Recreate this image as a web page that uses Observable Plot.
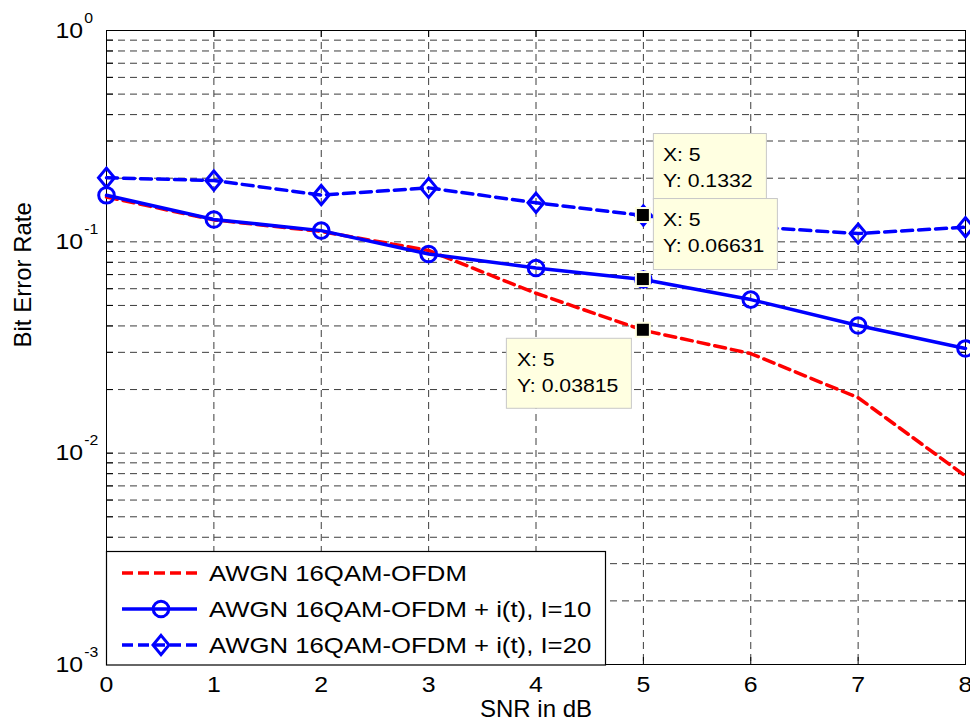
<!DOCTYPE html>
<html><head><meta charset="utf-8">
<script src="https://cdn.jsdelivr.net/npm/d3@7"></script>
<script src="https://cdn.jsdelivr.net/npm/@observablehq/plot@0.6"></script>
<style>body{margin:0;background:#fff} svg{display:block}</style>
</head><body><div id="chart"></div>
<script>
// ---- data ----
const snr = [0, 1, 2, 3, 4, 5, 6, 7, 8];
const berAwgn = [0.163, 0.127, 0.112, 0.091, 0.0571, 0.03815, 0.0296, 0.0183, 0.0078];
const berI10  = [0.166, 0.1276, 0.113, 0.0876, 0.0752, 0.06631, 0.0533, 0.0402, 0.0313];
const berI20  = [0.201, 0.195, 0.1665, 0.180, 0.153, 0.1332, 0.118, 0.1094, 0.1173];
const seriesNames = ["AWGN 16QAM-OFDM", "AWGN 16QAM-OFDM + i(t), I=10", "AWGN 16QAM-OFDM + i(t), I=20"];
const xTicks = [0, 1, 2, 3, 4, 5, 6, 7, 8];
const yDecades = [1e-3, 1e-2, 1e-1, 1];
const tipX = [5, 5, 5];
const tipY = [0.1332, 0.06631, 0.03815];
const tipYLabels = ["0.1332", "0.06631", "0.03815"];
const xLabel = "SNR in dB";
const yLabel = "Bit Error Rate";

const rows = snr.map((x, i) => ({x, awgn: berAwgn[i], i10: berI10[i], i20: berI20[i]}));
const yGrid = d3.scaleLog().domain([1e-3, 1]).ticks(); // 1..9 x 10^k
const yGridInner = yGrid.filter(v => v > 1e-3 * 1.0001 && v < 0.9999);
const xGridInner = xTicks.filter(v => v > 0 && v < 8);

const W = 970, H = 728, ML = 106, MR = 5, MT = 30, MB = 64;
const innerW = W - ML - MR, innerH = H - MT - MB;
const tickLen = 7;
const FONT = "'Liberation Sans', Arial, Helvetica, sans-serif";

const diamondSym = {draw(ctx, size) {
  const r = Math.sqrt(size / Math.PI), w = r, h = r * 1.2;
  ctx.moveTo(0, -h); ctx.lineTo(w, 0); ctx.lineTo(0, h); ctx.lineTo(-w, 0); ctx.closePath();
}};

const gridStyle = {stroke: "#3c3c3c", strokeWidth: 1, strokeDasharray: "7,5"};
const lw = 3.5;

const chart = Plot.plot({
  width: W, height: H,
  marginLeft: ML, marginRight: MR, marginTop: MT, marginBottom: MB,
  style: {fontFamily: FONT, background: "white", color: "black", overflow: "visible"},
  x: {domain: [0, 8], axis: null},
  y: {type: "log", domain: [1e-3, 1], axis: null},
  marks: [
    Plot.ruleY(yGridInner, {y: d => d, ...gridStyle}),
    Plot.ruleX(xGridInner, {x: d => d, ...gridStyle}),
    // inward ticks on all four sides
    Plot.tickY(yGrid, {y: d => d, insetRight: innerW - tickLen, stroke: "black"}),
    Plot.tickY(yGrid, {y: d => d, insetLeft: innerW - tickLen, stroke: "black"}),
    Plot.tickX(xTicks, {x: d => d, insetTop: innerH - tickLen, stroke: "black"}),
    Plot.tickX(xTicks, {x: d => d, insetBottom: innerH - tickLen, stroke: "black"}),
    Plot.frame({stroke: "black", strokeWidth: 1}),
    Plot.axisX({ticks: xTicks, tickSize: 0, tickPadding: 12, fontSize: 22, label: null, tickFormat: d => String(d)}),
    Plot.axisY({ticks: yDecades, tickSize: 0, tickPadding: 51, textAnchor: "start", fontSize: 22, label: null,
      tickFormat: d => "10^" + Math.round(Math.log10(d))}),
    Plot.text([xLabel], {text: d => d, frameAnchor: "bottom", dy: 52, fontSize: 24, ariaLabel: "x-label"}),
    Plot.text([yLabel], {text: d => d, frameAnchor: "left", dx: -83, rotate: -90, fontSize: 24}),
    Plot.line(rows, {x: "x", y: "awgn", stroke: "#ff0000", strokeWidth: lw, strokeDasharray: "11,6"}),
    Plot.line(rows, {x: "x", y: "i10", stroke: "#0000ff", strokeWidth: lw}),
    Plot.dot(rows, {x: "x", y: "i10", r: 7.8, stroke: "#0000ff", strokeWidth: 3, fill: "none"}),
    Plot.line(rows, {x: "x", y: "i20", stroke: "#0000ff", strokeWidth: lw, strokeDasharray: "11,6"}),
    Plot.dot(rows, {x: "x", y: "i20", r: 8, symbol: diamondSym, stroke: "#0000ff", strokeWidth: 3, fill: "none"})
  ]
});
document.getElementById("chart").appendChild(chart);

// horizontal stretch helper (reference text is slightly wide); scales about the text's own anchor
function stretch(el, k, anchor) {
  const b = el.getBBox();
  const cx = anchor === "start" ? b.x : b.x + b.width / 2;
  const t = el.getAttribute("transform") || "";
  el.setAttribute("transform", `${t} translate(${cx},0) scale(${k},1) translate(${-cx},0)`);
}

const svg = d3.select(chart);
// superscript exponents
svg.selectAll('g[aria-label="y-axis tick label"] text').each(function() {
  const s = this.textContent.split("^");
  this.textContent = s[0];
  d3.select(this).append("tspan").attr("dx", 1).attr("dy", -15).attr("font-size", 14).text(s[1]);
  stretch(this, 1.13, "start");
});
svg.selectAll('g[aria-label="x-axis tick label"] text').each(function() { stretch(this, 1.13, "middle"); });
svg.selectAll('g[aria-label="x-label"] text').each(function() { stretch(this, 1.05, "middle"); });

const sx = chart.scale("x"), sy = chart.scale("y");

// legend
const lg = svg.append("g").attr("font-family", FONT).attr("text-anchor", "start");
const LX = ML + 0.5, LY = 551.5, LW = 499, LH = 113.5;
lg.append("rect").attr("x", LX).attr("y", LY).attr("width", LW).attr("height", LH)
  .attr("fill", "white").attr("stroke", "black").attr("stroke-width", 1.2);
const rowsY = [573, 609, 645];
const legStyles = [
  {stroke: "#ff0000", dash: "11,5", marker: null},
  {stroke: "#0000ff", dash: null, marker: "circle"},
  {stroke: "#0000ff", dash: "11,5", marker: "diamond"}
];
seriesNames.forEach((name, i) => {
  const y = rowsY[i], st = legStyles[i];
  lg.append("line").attr("x1", 122).attr("x2", 197).attr("y1", y).attr("y2", y)
    .attr("stroke", st.stroke).attr("stroke-width", lw).attr("stroke-dasharray", st.dash);
  if (st.marker === "circle")
    lg.append("circle").attr("cx", 161).attr("cy", y).attr("r", 7.8)
      .attr("fill", "none").attr("stroke", st.stroke).attr("stroke-width", 3);
  if (st.marker === "diamond")
    lg.append("path").attr("transform", `translate(161,${y})`)
      .attr("d", d3.symbol(diamondSym, 64 * Math.PI)())
      .attr("fill", "none").attr("stroke", st.stroke).attr("stroke-width", 3);
  lg.append("text").attr("transform", `translate(209,${y + 8}) scale(1.17,1)`)
    .attr("font-size", 22).attr("fill", "black").text(name);
});

// data tips
const tipLayout = [
  {bx: 10, by: -82, bw: 113, bh: 66, tx: 20, l1: -54, l2: -28},
  {bx: 10, by: -81, bw: 124, bh: 71, tx: 20, l1: -53, l2: -27},
  {bx: -137, by: 8, bw: 125, bh: 70, tx: -126, l1: 36, l2: 62}
];
const tg = svg.append("g").attr("font-family", FONT).attr("text-anchor", "start");
tipY.forEach((v, i) => {
  const px = sx.apply(tipX[i]), py = sy.apply(v), L = tipLayout[i];
  tg.append("rect").attr("x", px + L.bx + 0.5).attr("y", py + L.by + 0.5)
    .attr("width", L.bw).attr("height", L.bh)
    .attr("fill", "#ffffe1").attr("stroke", "#c8c8c8").attr("stroke-width", 1);
  tg.append("text").attr("transform", `translate(${px + L.tx},${py + L.l1}) scale(1.18,1)`)
    .attr("font-size", 18).text(`X: ${tipX[i]}`);
  tg.append("text").attr("transform", `translate(${px + L.tx},${py + L.l2}) scale(1.18,1)`)
    .attr("font-size", 18).text(`Y: ${tipYLabels[i]}`);
});
tipY.forEach((v, i) => {
  const px = sx.apply(tipX[i]), py = sy.apply(v);
  tg.append("rect").attr("x", px - 7).attr("y", py - 7).attr("width", 14).attr("height", 14)
    .attr("fill", "black").attr("stroke", "#ffffe1").attr("stroke-width", 2);
});
</script>
</body></html>
